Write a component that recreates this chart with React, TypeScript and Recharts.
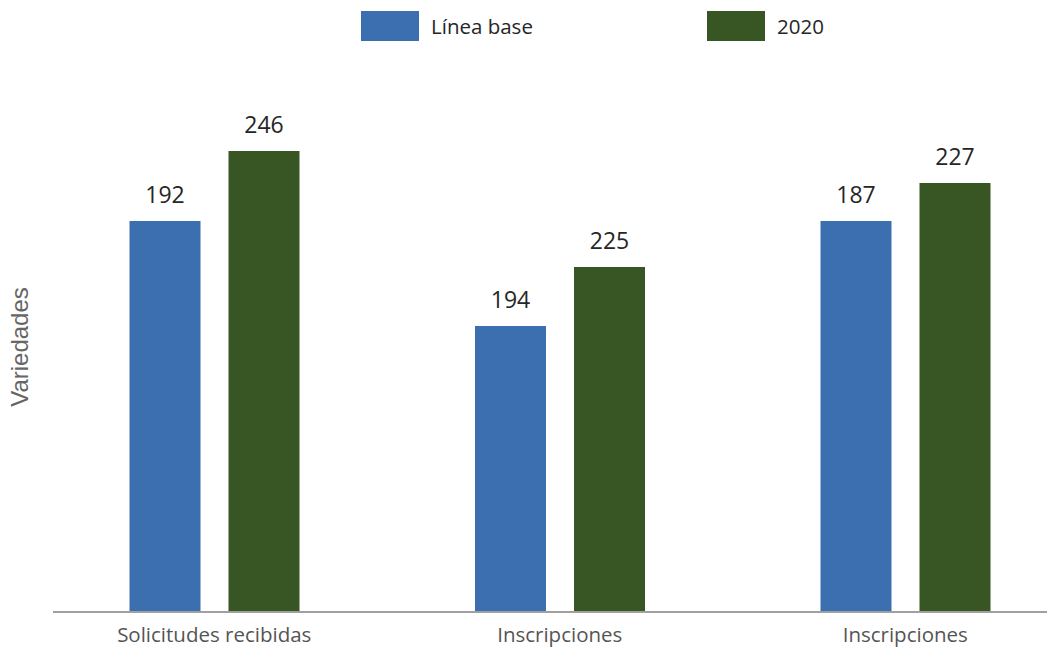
import { BarChart, Bar, XAxis, YAxis, LabelList } from 'recharts';

// Categories along the x axis
const categories: string[] = ['Solicitudes recibidas', 'Inscripciones', 'Inscripciones'];

// Printed value labels above each bar
const baseLabels: number[] = [192, 194, 187];
const labels2020: number[] = [246, 225, 227];

// Drawn bar heights (the bars are not drawn to the label scale)
const baseHeights: number[] = [212.5, 155.4, 212.5];
const heights2020: number[] = [250.5, 187.5, 233.2];

const seriesNames: string[] = ['Línea base', '2020'];
const seriesColors: string[] = ['#3b6faf', '#375623'];

interface Row {
  name: string;
  base: number;
  y2020: number;
  baseLabel: number;
  y2020Label: number;
}

const data: Row[] = categories.map((name, i) => ({
  name,
  base: baseHeights[i],
  y2020: heights2020[i],
  baseLabel: baseLabels[i],
  y2020Label: labels2020[i],
}));

const FONT = '"Open Sans", "DejaVu Sans", sans-serif';

const LegendBox = () => (
  <div
    style={{
      position: 'absolute',
      top: 11,
      left: 361,
      display: 'flex',
      alignItems: 'center',
      fontFamily: FONT,
      fontSize: 20.5,
      color: '#262626',
    }}
  >
    {seriesNames.map((n, i) => (
      <div key={n} style={{ display: 'flex', alignItems: 'center', width: i === 0 ? 346 : 'auto' }}>
        <span style={{ display: 'inline-block', width: 58, height: 30, background: seriesColors[i], marginRight: 12 }} />
        <span>{n}</span>
      </div>
    ))}
  </div>
);

export default function App() {
  return (
    <div style={{ position: 'absolute', top: 0, left: 0, width: 1047, height: 648, overflow: 'hidden', background: '#fff' }}>
      <LegendBox />
      <div
        style={{
          position: 'absolute',
          left: 20,
          top: 347,
          transform: 'translate(-50%, -50%) rotate(-90deg)',
          fontFamily: '"Liberation Sans", Arial, sans-serif',
          fontSize: 24,
          color: '#666',
          whiteSpace: 'nowrap',
        }}
      >
        Variedades
      </div>
      <BarChart
        width={1078}
        height={648}
        data={data}
        margin={{ top: 60, right: 0, bottom: 0, left: 53 }}
        barSize={71}
        barGap={28}
      >
        <XAxis
          dataKey="name"
          padding={{ left: -11.5, right: 0 }}
          axisLine={{ stroke: '#a0a0a0', strokeWidth: 2 }}
          tickLine={false}
          tickSize={0}
          tickMargin={15}
          height={36}
          interval={0}
          tick={{ fill: '#555', fontSize: 20.5, fontFamily: FONT }}
        />
        <YAxis domain={[0, 300]} width={0} tick={false} axisLine={false} tickLine={false} />
        <Bar dataKey="base" name={seriesNames[0]} fill={seriesColors[0]} isAnimationActive={false}>
          <LabelList dataKey="baseLabel" position="top" offset={18} fill="#262626" fontSize={23} fontFamily={FONT} />
        </Bar>
        <Bar dataKey="y2020" name={seriesNames[1]} fill={seriesColors[1]} isAnimationActive={false}>
          <LabelList dataKey="y2020Label" position="top" offset={18} fill="#262626" fontSize={23} fontFamily={FONT} />
        </Bar>
      </BarChart>
    </div>
  );
}
